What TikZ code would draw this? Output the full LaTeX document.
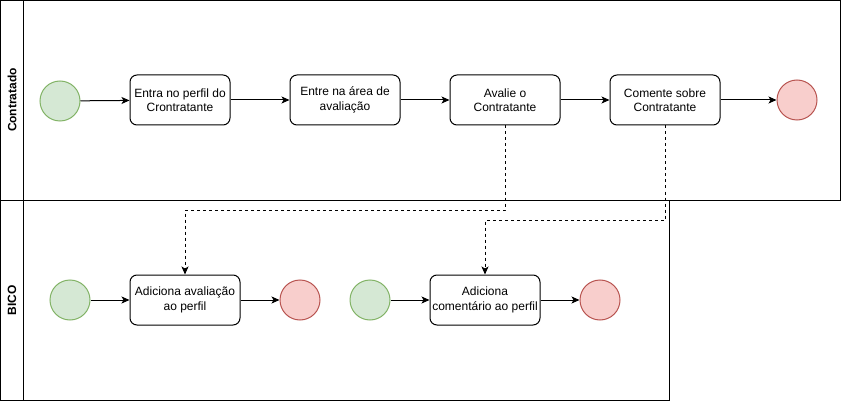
\documentclass[tikz,border=0pt]{standalone}
\usepackage{fontspec}
\setmainfont{Liberation Sans}
\usetikzlibrary{arrows.meta}
\definecolor{gfill}{HTML}{D5E8D4}
\definecolor{gline}{HTML}{82B366}
\definecolor{rfill}{HTML}{F8CECC}
\definecolor{rline}{HTML}{B85450}
\tikzset{
  pool/.style={draw=black, line width=1pt},
  lanelabel/.style={rotate=90, font=\fontsize{12pt}{14pt}\selectfont\bfseries, inner sep=0pt},
  task/.style={draw=black, line width=1pt, rounded corners=7pt, minimum width=110pt, minimum height=50pt, inner sep=0pt, align=center, font=\fontsize{12pt}{14.5pt}\selectfont},
  startev/.style={circle, draw=gline, fill=gfill, line width=1pt, minimum size=40pt, inner sep=0pt},
  endev/.style={circle, draw=rline, fill=rfill, line width=1pt, minimum size=40pt, inner sep=0pt},
  flow/.style={draw=black, line width=1pt, -{Stealth[length=8pt,width=7pt,inset=2pt]}},
  msgflow/.style={flow, dash pattern=on 3pt off 3pt},
}
\begin{document}
\begin{tikzpicture}[x=1pt,y=-1pt]
\useasboundingbox (0,0) rectangle (841,401);
% pools
\draw[pool] (0.5,0.5) rectangle (840.5,200.5);
\draw[pool] (23.5,0.5) -- (23.5,200.5);
\draw[pool] (0.5,200.5) rectangle (669.5,400.5);
\draw[pool] (23.5,200.5) -- (23.5,400.5);
\node[lanelabel] (l1) at (12,100) {Contratado};
\node[lanelabel] (l2) at (12,300) {BICO};
% top lane
\node[startev] (s1) at (60,101) {};
\node[task, minimum width=100pt] (t1) at (180,100) {Entra no perfil do\\Crontratante};
\node[task] (t2) at (345,100) {Entre na área de\\avaliação};
\node[task] (t3) at (505,100) {Avalie o\\Contratante};
\node[task] (t4) at (665,100) {Comente sobre\\Contratante};
\node[endev] (e1) at (797,100) {};
\draw[flow] (s1) -- (t1);
\draw[flow] (t1) -- (t2);
\draw[flow] (t2) -- (t3);
\draw[flow] (t3) -- (t4);
\draw[flow] (t4) -- (e1);
% bottom lane
\node[startev] (s2) at (70,300) {};
\node[task] (t5) at (185,300) {Adiciona avaliação\\ao perfil};
\node[endev] (e2) at (300,300) {};
\node[startev] (s3) at (370,300) {};
\node[task] (t6) at (485,300) {Adiciona\\comentário ao perfil};
\node[endev] (e3) at (600,300) {};
\draw[flow] (s2) -- (t5);
\draw[flow] (t5) -- (e2);
\draw[flow] (s3) -- (t6);
\draw[flow] (t6) -- (e3);
% message flows
\coordinate (y1) at (0,210);
\coordinate (y2) at (0,220);
\draw[msgflow] (t3.south) -- (t3.south |- y1) -| (t5.north);
\draw[msgflow] (t4.south) -- (t4.south |- y2) -| (t6.north);
\end{tikzpicture}
\end{document}
